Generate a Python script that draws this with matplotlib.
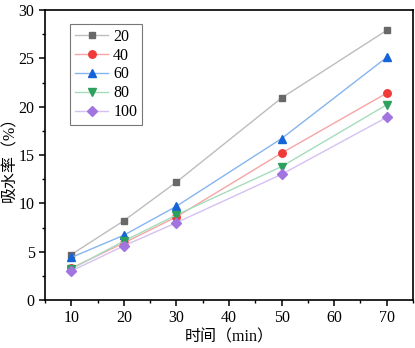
import matplotlib.pyplot as plt
from matplotlib.ticker import MultipleLocator

plt.rcParams['font.family'] = ['Liberation Serif', 'Noto Sans CJK SC']

time_min = [10, 20, 30, 50, 70]
labels = ['20', '40', '60', '80', '100']
s20 = [4.7, 8.2, 12.2, 20.9, 27.9]
s40 = [3.3, 5.9, 8.6, 15.2, 21.4]
s60 = [4.4, 6.7, 9.7, 16.7, 25.1]
s80 = [3.2, 6.1, 8.8, 13.8, 20.2]
s100 = [3.0, 5.6, 8.0, 13.0, 18.9]

series = [s20, s40, s60, s80, s100]
markers = ['s', 'o', '^', 'v', 'D']
mcolors = ['#686868', '#f03a3a', '#1464d8', '#2ea05e', '#a274e0']
lcolors = ['#bdbdbd', '#f6a5a5', '#86b4f0', '#a6dcbc', '#d6c0f2']
msizes = [4.6, 5.4, 6.2, 6.2, 4.8]

fig = plt.figure(figsize=(4.15, 3.48), dpi=100)
ax = fig.add_axes([45 / 415, 48 / 348, 368 / 415, 290 / 348])

for vals, lab, m, mc, lc, ms in zip(series, labels, markers, mcolors, lcolors, msizes):
    ax.plot(time_min, vals, color=lc, lw=1.0, marker=m, ms=ms,
            markerfacecolor=mc, markeredgecolor=mc, label=lab)

ax.set_xlim(5, 75)
ax.set_ylim(0, 30)
ax.xaxis.set_major_locator(MultipleLocator(10))
ax.xaxis.set_minor_locator(MultipleLocator(5))
ax.yaxis.set_major_locator(MultipleLocator(5))
ax.yaxis.set_minor_locator(MultipleLocator(2.5))
ax.tick_params(which='major', direction='out', length=4, width=1.1, labelsize=11.5)
ax.tick_params(which='minor', direction='out', length=2.5, width=1.0)
for sp in ax.spines.values():
    sp.set_linewidth(1.2)

ax.set_xlabel('时间（min）', fontsize=11.5, labelpad=2)
ax.set_ylabel('吸水率（%）', fontsize=11.5, labelpad=0)

leg = ax.legend(loc='upper left', bbox_to_anchor=(0.068, 0.952), fontsize=11.5,
                frameon=True, fancybox=False, edgecolor='#555555',
                handlelength=2.1, handletextpad=0.3, labelspacing=0.18,
                borderpad=0.3, borderaxespad=0)
leg.get_frame().set_linewidth(0.8)

fig.savefig('out.png', dpi=100)
